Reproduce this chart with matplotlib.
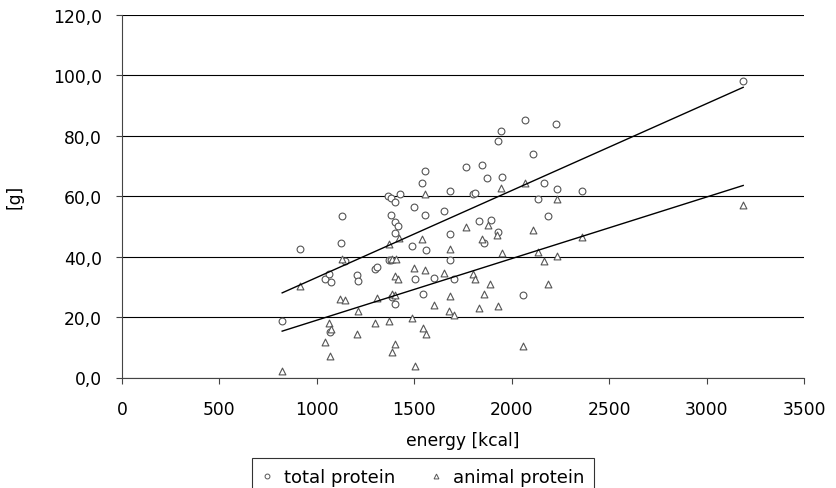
import numpy as np
import matplotlib
matplotlib.use("Agg")
import matplotlib.pyplot as plt
from matplotlib.ticker import FuncFormatter, MultipleLocator
from matplotlib.lines import Line2D

# --- DATA ---
total_energy = [822, 916, 1044, 1061, 1072, 1065, 1123, 1128, 1144, 1207,
                1213, 1300, 1308, 1367, 1379, 1425, 1401, 1379, 1401, 1415,
                1401, 1372, 1380, 1384, 1399, 1488, 1501, 1504, 1542, 1554,
                1554, 1560, 1545, 1600, 1651, 1684, 1684, 1682, 1704, 1764,
                1799, 1812, 1830, 1850, 1857, 1874, 1895, 1928, 1944, 1950,
                1931, 2068, 2108, 2133, 2164, 2186, 2229, 2231, 2361, 2059,
                3188]
total_protein = [18.8, 42.6, 32.6, 34.2, 31.7, 15.1, 44.6, 53.6, 38.6, 33.9,
                 32.1, 35.9, 36.5, 60.0, 59.4, 60.9, 58.1, 53.8, 51.5, 50.0,
                 48.0, 38.8, 39.0, 26.8, 24.3, 43.5, 56.6, 32.7, 64.4, 68.5,
                 53.8, 42.2, 27.8, 33.0, 55.1, 61.9, 47.5, 38.8, 32.7, 69.8,
                 60.6, 61.0, 51.8, 70.3, 44.5, 66.2, 52.1, 78.3, 81.6, 66.4,
                 48.2, 85.4, 73.9, 59.0, 64.5, 53.5, 84.0, 62.4, 61.8, 27.4,
                 98.3]

animal_energy = [822, 916, 1044, 1061, 1072, 1065, 1121, 1144, 1128, 1207,
                 1213, 1300, 1308, 1370, 1384, 1404, 1372, 1384, 1401, 1401,
                 1415, 1401, 1385, 1423, 1488, 1501, 1504, 1542, 1554, 1554,
                 1545, 1559, 1600, 1651, 1684, 1684, 1679, 1706, 1764, 1799,
                 1812, 1831, 1850, 1857, 1876, 1890, 1926, 1931, 1944, 1950,
                 2059, 2068, 2108, 2133, 2164, 2186, 2231, 2231, 2361, 3188]
animal_protein = [2.1, 30.3, 11.8, 18.0, 16.0, 7.2, 26.0, 25.6, 39.3, 14.5,
                  22.1, 18.0, 26.4, 44.2, 39.1, 39.1, 18.8, 27.5, 27.4, 33.5,
                  32.7, 11.2, 8.4, 46.2, 19.7, 36.4, 3.7, 46.0, 60.7, 35.6,
                  16.4, 14.3, 24.0, 34.5, 42.7, 27.0, 22.0, 20.7, 49.9, 34.3,
                  32.7, 22.9, 45.8, 27.5, 50.6, 30.8, 47.3, 23.6, 62.6, 41.2,
                  10.4, 64.4, 48.9, 41.5, 38.5, 30.8, 59.2, 40.1, 46.5, 57.1]

series_labels = ["total protein", "animal protein"]
x_label = "energy [kcal]"
y_label = "[g]"

# --- STYLE ---
plt.rcParams["font.family"] = ["DejaVu Sans"]
FS = 12.3
MARK_EDGE = "#555555"

fig = plt.figure(figsize=(8.36, 4.89), dpi=100)
ax = fig.add_axes([122 / 836, 1 - 378.5 / 489, (804 - 122) / 836, (378.5 - 16) / 489])

ax.scatter(total_energy, total_protein, s=24, marker="o", facecolor="white",
           edgecolor=MARK_EDGE, linewidth=0.8, zorder=3)
ax.scatter(animal_energy, animal_protein, s=24, marker="^", facecolor="white",
           edgecolor=MARK_EDGE, linewidth=0.8, zorder=3)

# linear trend lines
for xs, ys in [(total_energy, total_protein), (animal_energy, animal_protein)]:
    xs = np.asarray(xs, float)
    ys = np.asarray(ys, float)
    k, b = np.polyfit(xs, ys, 1)
    xx = np.array([xs.min(), xs.max()])
    ax.plot(xx, k * xx + b, color="black", linewidth=1.0, zorder=4)

ax.set_xlim(0, 3500)
ax.set_ylim(0, 120)
ax.xaxis.set_major_locator(MultipleLocator(500))
ax.yaxis.set_major_locator(MultipleLocator(20))
ax.yaxis.set_major_formatter(FuncFormatter(lambda v, p: f"{v:.1f}".replace(".", ",")))

ax.grid(axis="y", color="black", linewidth=0.8)
ax.set_axisbelow(True)
for side in ["top", "right"]:
    ax.spines[side].set_visible(False)
ax.spines["left"].set_color("#444444")
ax.spines["bottom"].set_color("#444444")

ax.tick_params(axis="y", direction="out", length=4.5, width=0.8, pad=10,
               labelsize=FS, colors="#444444", labelcolor="black")
ax.tick_params(axis="x", direction="out", length=4.5, width=0.8, pad=12,
               labelsize=FS, colors="#444444", labelcolor="black")

ax.set_xlabel(x_label, fontsize=FS, labelpad=9)
ax.set_ylabel(y_label, fontsize=FS, labelpad=21)

handles = [
    Line2D([], [], linestyle="none", marker="o", markersize=3.5,
           markerfacecolor="white", markeredgecolor=MARK_EDGE, markeredgewidth=0.7),
    Line2D([], [], linestyle="none", marker="^", markersize=3.5,
           markerfacecolor="white", markeredgecolor=MARK_EDGE, markeredgewidth=0.7),
]
leg = fig.legend(handles, series_labels, loc="upper center", ncol=2,
                 bbox_to_anchor=(423 / 836, 1 - 459 / 489), frameon=True,
                 fancybox=False, edgecolor="black", fontsize=FS + 0.7,
                 handlelength=0.6, handletextpad=0.6, columnspacing=2.0,
                 borderpad=0.55, borderaxespad=0)
leg.get_frame().set_linewidth(0.8)

fig.savefig("out.png", dpi=100)
